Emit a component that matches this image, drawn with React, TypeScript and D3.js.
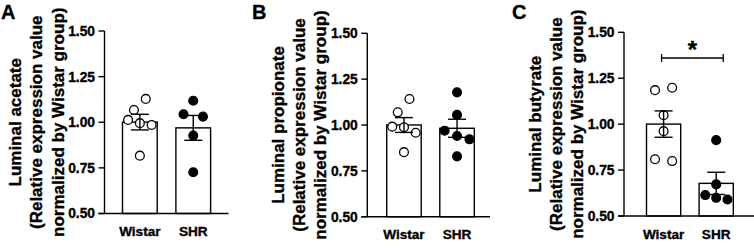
import React from "react";
import * as d3 from "d3";

// ---------- data ----------
const groups = ["Wistar", "SHR"];
const panelLetters = ["A", "B", "C"];
const yTicks = [0.5, 0.75, 1.0, 1.25, 1.5];
const yTitles = [
  ["Luminal acetate", "(Relative expression value", "normalized by Wistar group)"],
  ["Luminal propionate", "(Relative expression value", "normalized by Wistar group)"],
  ["Luminal butyrate", "(Relative expression value", "normalized by Wistar group)"],
];

const acetateWistar = [1.128, 1.067, 1.013, 0.995, 0.985, 0.817];
const acetateSHR = [1.118, 1.044, 1.031, 0.927, 0.726];
const propionateWistar = [1.142, 1.069, 0.991, 0.988, 0.958, 0.852];
const propionateSHR = [1.178, 1.055, 0.969, 0.94, 0.922, 0.829];
const butyrateWistar = [1.185, 1.198, 1.049, 0.962, 0.809, 0.799];
const butyrateSHR = [0.913, 0.672, 0.614, 0.599, 0.59];

// horizontal jitter of points, as fraction of bar width
const acetateWistarJitter = [0.17, -0.17, -0.34, 0, 0.34, 0];
const acetateSHRJitter = [0, -0.28, 0.28, 0, 0];
const propionateWistarJitter = [0.16, -0.18, -0.34, 0, 0.34, 0];
const propionateSHRJitter = [0, 0, -0.36, 0, 0.36, 0];
const butyrateWistarJitter = [-0.25, 0.25, 0, 0, -0.25, 0.25];
const butyrateSHRJitter = [0, 0, -0.32, 0, 0.33];

const significance = ["", "", "*"];

// ---------- layout ----------
const panels = [
  { wistar: acetateWistar, shr: acetateSHR, jw: acetateWistarJitter, js: acetateSHRJitter,
    axisX: 104.5, yTop: 31, yBottom: 213.5, barStart: 122.5, barEnd: 210.6, xEnd: 228.5, letterX: 1 },
  { wistar: propionateWistar, shr: propionateSHR, jw: propionateWistarJitter, js: propionateSHRJitter,
    axisX: 367.3, yTop: 33.3, yBottom: 216.7, barStart: 386.7, barEnd: 474.3, xEnd: 490, letterX: 252 },
  { wistar: butyrateWistar, shr: butyrateSHR, jw: butyrateWistarJitter, js: butyrateSHRJitter,
    axisX: 624, yTop: 32.3, yBottom: 216, barStart: 646.5, barEnd: 733.3, xEnd: 754, letterX: 512 },
];

const FONT = "'Liberation Sans', Arial, Helvetica, sans-serif";
const SW = 1.4;
const TXT = { fontWeight: "bold", fontFamily: FONT, stroke: "#000", strokeWidth: 0.35 } as const;

function sem(v: number[]) {
  return (d3.deviation(v) as number) / Math.sqrt(v.length);
}

function Panel({ p, i }: { p: any; i: number }) {
  const y = d3.scaleLinear().domain([0.5, 1.5]).range([p.yBottom, p.yTop]);
  const x = d3.scaleBand().domain(groups).range([p.barStart, p.barEnd]).paddingInner(0.35).paddingOuter(0);
  const bw = x.bandwidth();
  const cx = (g: string) => (x(g) as number) + bw / 2;
  const series = [
    { g: "Wistar", v: p.wistar, j: p.jw, fill: "#fff" },
    { g: "SHR", v: p.shr, j: p.js, fill: "#000" },
  ];
  const midY = (p.yTop + p.yBottom) / 2;
  const labelOffsets = [83.5, 62.5, 41];
  const sigY = y(1.36);
  const bx1 = cx("Wistar") - 2;
  const bx2 = cx("SHR") + 7;
  return (
    <g>
      <text x={p.letterX} y={19} fontSize={20} {...TXT}>{panelLetters[i]}</text>
      {yTitles[i].map((t, k) => (
        <text key={k} transform={`translate(${p.axisX - labelOffsets[k]},${midY}) rotate(-90)`}
          textAnchor="middle" fontSize={17} {...TXT}>{t}</text>
      ))}
      {/* bars */}
      {series.map((s) => {
        const m = d3.mean(s.v) as number;
        return (
          <rect key={s.g} x={x(s.g)} y={y(m)} width={bw} height={y(0.5) - y(m)}
            fill="#fff" stroke="#000" strokeWidth={SW} />
        );
      })}
      {/* points */}
      {series.map((s) =>
        s.v.map((v: number, k: number) => (
          <circle key={s.g + k} cx={cx(s.g) + s.j[k] * bw} cy={y(v)} r={4.4}
            fill={s.fill} stroke="#000" strokeWidth={1.3} />
        ))
      )}
      {/* error bars */}
      {series.map((s) => {
        const m = d3.mean(s.v) as number;
        const e = sem(s.v);
        const c = cx(s.g);
        return (
          <g key={"e" + s.g} stroke="#000" strokeWidth={SW}>
            <line x1={c} x2={c} y1={y(m + e)} y2={y(m - e)} />
            <line x1={c - 9} x2={c + 9} y1={y(m + e)} y2={y(m + e)} />
            <line x1={c - 9} x2={c + 9} y1={y(m - e)} y2={y(m - e)} />
          </g>
        );
      })}
      {/* y axis */}
      <line x1={p.axisX} x2={p.axisX} y1={y(1.5)} y2={y(0.5)} stroke="#000" strokeWidth={SW} />
      {yTicks.map((t) => (
        <g key={t}>
          <line x1={p.axisX - 6} x2={p.axisX} y1={y(t)} y2={y(t)} stroke="#000" strokeWidth={SW} />
          <text x={p.axisX - 9.5} y={y(t)} dy="0.36em" textAnchor="end" fontSize={13.8}
            {...TXT}>{d3.format(".2f")(t)}</text>
        </g>
      ))}
      {/* x axis */}
      <line x1={p.axisX - 6} x2={p.xEnd} y1={y(0.5)} y2={y(0.5)} stroke="#000" strokeWidth={SW} />
      {groups.map((g) => (
        <text key={g} x={cx(g)} y={y(0.5) + 22.5} textAnchor="middle"
          fontSize={13.6} {...TXT}>{g}</text>
      ))}
      {significance[i] && (
        <g>
          <g stroke="#000" strokeWidth={1.3}>
            <line x1={bx1} x2={bx2} y1={sigY} y2={sigY} />
            <line x1={bx1} x2={bx1} y1={sigY - 4} y2={sigY + 4} />
            <line x1={bx2} x2={bx2} y1={sigY - 4} y2={sigY + 4} />
          </g>
          <text x={(bx1 + bx2) / 2} y={sigY} textAnchor="middle" fontSize={24} {...TXT}>{significance[i]}</text>
        </g>
      )}
    </g>
  );
}

export default function App() {
  return (
    <svg width={754} height={248} style={{ position: "absolute", left: 0, top: 0, background: "#fff" }}>
      <rect width={754} height={248} fill="#fff" />
      {panels.map((p, i) => (
        <Panel key={i} p={p} i={i} />
      ))}
    </svg>
  );
}
